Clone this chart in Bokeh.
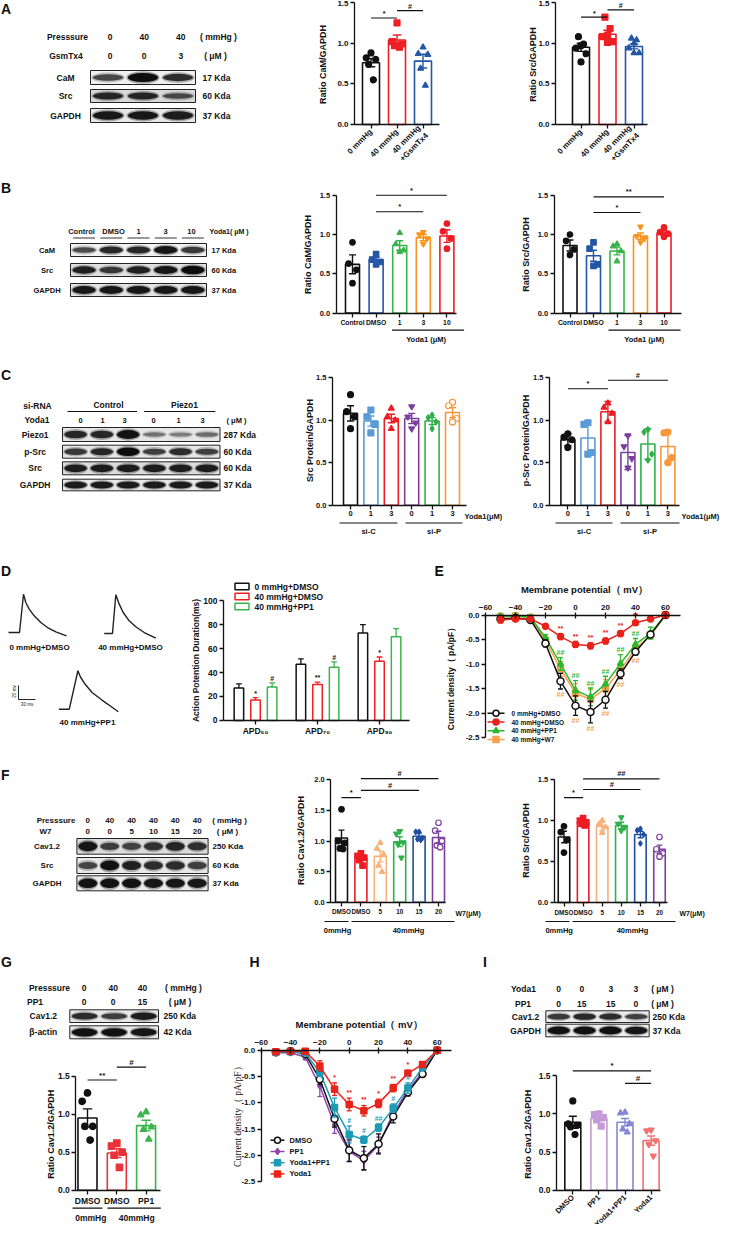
import math
from bokeh.plotting import figure
from bokeh.models import Range1d, LinearAxis, FixedTicker, NumeralTickFormatter
from bokeh.layouts import row, column
from bokeh.embed import file_html
from bokeh.resources import INLINE
from bokeh.core.properties import value

FONT = "Liberation Sans"
SERIF = "Liberation Serif"
INK = "#111111"

# ======================= DATA =======================
# ---------- A ----------
A_pressure = ["0", "40", "40"]
A_gsmtx4 = ["0", "0", "3"]
A_proteins = ["CaM", "Src", "GAPDH"]
A_kda = ["17 Kda", "60 Kda", "37 Kda"]
A_bands = [[0.5, 1.0, 0.7], [0.75, 0.75, 0.45], [0.9, 0.9, 0.85]]
A_groups = ["0 mmHg", "40 mmHg", "40 mmHg\n+GsmTx4"]
A_colors = ["#111111", "#ee2024", "#2456a6"]
A_markers = ["circle", "square", "triangle"]
A_cam_mean = [0.76, 1.04, 0.78]
A_cam_sem = [0.05, 0.06, 0.085]
A_cam_pts = [[0.88, 0.82, 0.80, 0.74, 0.55], [1.25, 1.02, 0.99, 0.97, 0.95], [0.95, 0.87, 0.86, 0.69, 0.48]]
A_cam_sig = [(0, 1, "*", 1.31), (1, 2, "#", 1.40)]
A_src_mean = [0.95, 1.11, 0.96]
A_src_sem = [0.05, 0.05, 0.03]
A_src_pts = [[1.08, 0.99, 0.97, 0.94, 0.87, 0.77], [1.32, 1.18, 1.10, 1.08, 1.02, 1.01], [1.06, 1.04, 1.00, 0.94, 0.88, 0.88]]
A_src_sig = [(0, 1, "*", 1.32), (1, 2, "#", 1.41)]

# ---------- B ----------
B_lanes = ["Control", "DMSO", "1", "3", "10"]
B_proteins = ["CaM", "Src", "GAPDH"]
B_kda = ["17 Kda", "60 Kda", "37 Kda"]
B_bands = [[0.45, 0.75, 0.75, 0.9, 0.6], [0.8, 0.6, 0.8, 0.9, 1.0], [0.9, 0.9, 0.9, 0.9, 0.9]]
B_colors = ["#111111", "#2456a6", "#37b34a", "#f7941d", "#ed1c24"]
B_markers = ["circle", "square", "triangle", "inverted_triangle", "circle"]
B_cam_mean = [0.62, 0.68, 0.86, 0.96, 0.98]
B_cam_sem = [0.12, 0.03, 0.06, 0.04, 0.08]
B_cam_pts = [[0.90, 0.63, 0.55, 0.38], [0.75, 0.68, 0.65, 0.62], [1.02, 0.88, 0.80, 0.78],
             [1.03, 1.00, 0.95, 0.88], [1.14, 1.04, 0.95, 0.82]]
B_cam_sig = [(1, 4, "*", 1.50), (1, 3, "*", 1.29)]
B_src_mean = [0.86, 0.73, 0.79, 0.98, 1.02]
B_src_sem = [0.07, 0.07, 0.05, 0.04, 0.03]
B_src_pts = [[1.00, 0.92, 0.81, 0.74], [0.90, 0.82, 0.62, 0.60], [0.88, 0.85, 0.79, 0.66],
             [1.10, 0.98, 0.95, 0.90], [1.09, 1.03, 1.01, 0.97]]
B_src_sig = [(1, 4, "**", 1.48), (1, 3, "*", 1.28)]

# ---------- C ----------
C_lanes = ["0", "1", "3", "0", "1", "3"]
C_proteins = ["Piezo1", "p-Src", "Src", "GAPDH"]
C_kda = ["287 Kda", "60 Kda", "60 Kda", "37 Kda"]
C_bands = [[0.75, 0.75, 0.95, 0.15, 0.08, 0.2], [0.6, 0.75, 1.0, 0.55, 0.7, 0.55],
           [0.85, 0.85, 0.85, 0.85, 0.85, 0.85], [0.85, 0.85, 0.85, 0.85, 0.85, 0.85]]
C_colors = ["#111111", "#5b9bd5", "#ed1c24", "#7b3f9e", "#2fb04a", "#f7963a"]
C_markers = ["circle", "square", "triangle", "inverted_triangle", "diamond", "circle"]
C_src_mean = [1.08, 0.99, 1.02, 1.02, 0.99, 1.09]
C_src_sem = [0.09, 0.06, 0.05, 0.06, 0.04, 0.06]
C_src_pts = [[1.30, 1.10, 1.04, 0.90], [1.12, 1.04, 0.95, 0.85], [1.14, 1.04, 1.00, 0.90],
             [1.16, 1.04, 0.97, 0.90], [1.06, 1.03, 0.98, 0.90], [1.21, 1.17, 1.02, 0.98]]
C_psrc_mean = [0.77, 0.79, 1.10, 0.62, 0.72, 0.69]
C_psrc_err = [0.07, 0.20, 0.12, 0.20, 0.18, 0.19]
C_psrc_pts = [[0.84, 0.80, 0.77, 0.68], [0.97, 0.95, 0.62, 0.60], [1.20, 1.15, 1.08, 0.98],
              [0.82, 0.69, 0.55, 0.44], [0.89, 0.86, 0.60, 0.53], [0.86, 0.85, 0.56, 0.50]]
C_psrc_sig = [(0, 2, "*", 1.37), (2, 5, "#", 1.47)]

# ---------- D ----------
D_traces = ["0 mmHg+DMSO", "40 mmHg+DMSO", "40 mmHg+PP1"]
AP_t = [[0, 19.4, 26.5, 30.5, 36.5, 45.3, 57.0, 68.8, 83.5, 102.3],
        [0, 14.6, 20.5, 26.5, 33.5, 44.1, 55.7, 70.5, 91.0],
        [0, 18.3, 33.5, 38.0, 46.0, 58.5, 75.3, 92.0, 104.7]]
AP_v = [[0, 0, 54.7, 42.9, 33.3, 23.8, 14.3, 7.1, 1.0, -4.7],
        [0, 0, 55.3, 41.9, 30.0, 18.1, 9.6, 1.4, -6.7],
        [0, 0, 54.9, 46.0, 35.9, 23.9, 13.4, 3.9, -3.7]]
D_groups = ["APD₅₀", "APD₇₀", "APD₉₀"]
D_series = ["0 mmHg+DMSO", "40 mmHg+DMSO", "40 mmHg+PP1"]
D_colors = ["#111111", "#ee2024", "#3cb44b"]
D_mean = [[27, 47, 73], [17, 30, 49.5], [28, 44.5, 70]]
D_sem = [[3.5, 4.5, 7.0], [2.0, 2.0, 3.5], [3.3, 4.5, 6.8]]
D_sig = [["", "", ""], ["*", "**", "*"], ["#", "#", ""]]

# ---------- E ----------
E_V = [-50, -40, -30, -20, -10, 0, 10, 20, 30, 40, 50, 60]
E_names = ["0 mmHg+DMSO", "40 mmHg+DMSO", "40 mmHg+PP1", "40 mmHg+W7"]
E_colors = ["#111111", "#e8231a", "#2db82d", "#f6a04d"]
E_markers = ["circle", "circle", "triangle", "square"]
E_mean = [[-0.08, -0.06, -0.10, -0.58, -1.35, -1.85, -1.98, -1.73, -1.20, -0.75, -0.40, 0.0],
          [-0.10, -0.08, -0.08, -0.23, -0.44, -0.60, -0.63, -0.53, -0.38, -0.16, -0.08, 0.0],
          [-0.02, -0.02, -0.05, -0.46, -1.00, -1.54, -1.67, -1.41, -0.99, -0.60, -0.37, 0.0],
          [-0.03, -0.02, -0.05, -0.52, -1.10, -1.60, -1.72, -1.50, -1.12, -0.68, -0.42, 0.0]]
E_sem = [[0.03, 0.03, 0.03, 0.07, 0.16, 0.20, 0.22, 0.17, 0.10, 0.07, 0.05, 0.0],
         [0.06, 0.05, 0.03, 0.05, 0.06, 0.06, 0.06, 0.06, 0.06, 0.03, 0.05, 0.0],
         [0.02, 0.02, 0.02, 0.06, 0.13, 0.20, 0.18, 0.16, 0.18, 0.12, 0.12, 0.0],
         [0.02, 0.02, 0.02, 0.06, 0.15, 0.20, 0.20, 0.18, 0.14, 0.10, 0.06, 0.0]]
E_sig_red = ["", "", "", "", "**", "**", "**", "**", "**", "**", "", ""]
E_sig_green = ["", "", "", "", "##", "##", "##", "##", "##", "##", "", ""]
E_sig_orange = ["", "", "", "", "##", "##", "##", "##", "##", "##", "", ""]
IV_ticks = [0, -0.5, -1.0, -1.5, -2.0, -2.5]
V_ticks = [-60, -40, -20, 0, 20, 40, 60]

# ---------- F ----------
F_pressure = ["0", "40", "40", "40", "40", "40"]
F_w7 = ["0", "0", "5", "10", "15", "20"]
F_proteins = ["Cav1.2", "Src", "GAPDH"]
F_kda = ["250 Kda", "60 Kda", "37 Kda"]
F_bands = [[0.9, 0.55, 0.5, 0.65, 0.75, 0.65], [0.5, 0.95, 0.8, 0.7, 0.7, 0.55], [0.95, 0.95, 0.95, 0.9, 0.9, 0.9]]
F_ticks = ["DMSO", "DMSO", "5", "10", "15", "20"]
F_colors = ["#111111", "#ed1c24", "#f7b27b", "#2fb04a", "#1f4ea0", "#7b3f9e"]
F_markers = ["circle", "square", "triangle", "inverted_triangle", "diamond", "circle"]
F_cav_mean = [1.05, 0.72, 0.75, 0.99, 1.08, 1.06]
F_cav_sem = [0.13, 0.04, 0.09, 0.08, 0.05, 0.10]
F_cav_pts = [[1.52, 1.00, 0.97, 0.88, 0.87], [0.80, 0.76, 0.73, 0.69, 0.60], [0.97, 0.88, 0.78, 0.60, 0.50],
             [1.16, 1.12, 0.98, 0.95, 0.73], [1.15, 1.15, 1.05, 1.03, 1.02], [1.30, 1.17, 1.00, 0.93, 0.90]]
F_cav_sig = [(0, 1, "*", 1.71), (1, 4, "#", 1.83), (1, 5, "#", 2.02)]
F_src_mean = [0.80, 0.98, 0.93, 0.94, 0.83, 0.65]
F_src_sem = [0.07, 0.02, 0.05, 0.04, 0.04, 0.05]
F_src_pts = [[0.93, 0.86, 0.76, 0.61], [1.03, 1.00, 0.98, 0.96, 0.94], [1.00, 0.96, 0.92, 0.85],
             [1.04, 0.96, 0.92, 0.88], [0.90, 0.88, 0.83, 0.72], [0.80, 0.65, 0.60, 0.56]]
F_src_sig = [(0, 1, "*", 1.28), (1, 4, "#", 1.38), (1, 5, "##", 1.51)]

# ---------- G ----------
G_pressure = ["0", "40", "40"]
G_pp1 = ["0", "0", "15"]
G_proteins = ["Cav1.2", "β-actin"]
G_kda = ["250 Kda", "42 Kda"]
G_bands = [[0.7, 0.55, 0.85], [0.95, 0.95, 0.9]]
G_ticks = ["DMSO", "DMSO", "PP1"]
G_colors = ["#111111", "#e8333a", "#3cb44b"]
G_markers = ["circle", "square", "triangle"]
G_mean = [0.95, 0.49, 0.85]
G_sem = [0.12, 0.06, 0.07]
G_pts = [[1.28, 1.17, 0.84, 0.84, 0.66], [0.62, 0.58, 0.50, 0.46, 0.30], [1.03, 0.99, 0.83, 0.80, 0.67]]
G_sig = [(0, 1, "**", 1.45), (1, 2, "#", 1.62)]

# ---------- H ----------
H_names = ["DMSO", "PP1", "Yoda1+PP1", "Yoda1"]
H_colors = ["#111111", "#8e44ad", "#1b9bb5", "#e8231a"]
H_markers = ["circle", "diamond", "square", "square"]
H_mean = [[-0.04, -0.02, -0.07, -0.55, -1.30, -1.90, -2.05, -1.78, -1.26, -0.80, -0.45, 0.0],
          [-0.05, -0.05, -0.13, -0.68, -1.42, -1.92, -2.10, -1.80, -1.20, -0.76, -0.42, 0.0],
          [-0.04, -0.03, -0.05, -0.42, -1.09, -1.60, -1.70, -1.47, -1.10, -0.72, -0.33, 0.0],
          [-0.03, -0.02, -0.02, -0.30, -0.74, -1.03, -1.15, -1.01, -0.72, -0.44, -0.27, 0.0]]
H_sem = [[0.02, 0.02, 0.03, 0.10, 0.16, 0.21, 0.22, 0.19, 0.12, 0.07, 0.05, 0.0],
         [0.02, 0.02, 0.05, 0.20, 0.16, 0.20, 0.18, 0.15, 0.10, 0.10, 0.05, 0.0],
         [0.02, 0.02, 0.02, 0.08, 0.18, 0.16, 0.07, 0.07, 0.08, 0.10, 0.05, 0.0],
         [0.02, 0.02, 0.02, 0.10, 0.12, 0.12, 0.10, 0.08, 0.07, 0.06, 0.04, 0.0]]
H_sig_red = ["", "", "", "", "*", "**", "**", "*", "**", "*", "", ""]
H_sig_teal = ["", "", "", "", "", "#", "#", "##", "#", "#", "", ""]

# ---------- I ----------
I_yoda = ["0", "0", "3", "3"]
I_pp1 = ["0", "15", "15", "0"]
I_proteins = ["Cav1.2", "GAPDH"]
I_kda = ["250 Kda", "37 Kda"]
I_bands = [[0.6, 0.75, 0.7, 0.55], [0.95, 0.95, 0.95, 0.9]]
I_ticks = ["DMSO", "PP1", "Yoda1+PP1", "Yoda1"]
I_colors = ["#111111", "#c49bd6", "#8287d4", "#f07070"]
I_markers = ["circle", "square", "triangle", "inverted_triangle"]
I_mean = [0.89, 0.94, 0.89, 0.65]
I_sem = [0.08, 0.03, 0.05, 0.06]
I_pts = [[1.17, 0.87, 0.85, 0.83, 0.73], [1.00, 0.99, 0.95, 0.92, 0.84], [1.02, 1.01, 0.87, 0.80, 0.76],
         [0.79, 0.78, 0.65, 0.60, 0.45]]
I_sig = [(0, 3, "*", 1.565), (2, 3, "#", 1.40)]

# horizontal spread of dots inside a bar (fraction of bar width), by number of dots
JIT = {4: [0.0, -0.28, 0.28, 0.0], 5: [0.0, -0.28, 0.28, -0.14, 0.14], 6: [-0.15, 0.15, 0.0, -0.3, 0.3, 0.0]}


# ======================= HELPERS =======================
class Panel:
    """A figure covering a pixel rectangle of the page; data <-> pixel calibration."""
    def __init__(self, x0, x1, y0, y1, xcal=(0.0, 0.0, 1.0), ycal=(0.0, 0.0, 1.0)):
        self.xc, self.yc = xcal, ycal
        self.p = figure(width=int(x1 - x0), height=int(y1 - y0),
                        x_range=Range1d(self.dx(x0), self.dx(x1)),
                        y_range=Range1d(self.dy(y1), self.dy(y0)),
                        x_axis_type=None, y_axis_type=None,
                        output_backend="svg", toolbar_location=None,
                        min_border=0, outline_line_color=None)

    def dx(self, px):
        va, pa, s = self.xc
        return va + (px - pa) / s

    def dy(self, py):
        va, pa, s = self.yc
        return va + (pa - py) / s

    def ux(self, n):
        return n / self.xc[2]

    def uy(self, n):
        return n / self.yc[2]


def ptext(P, px, py, s, size=8, align="center", baseline="middle", color=INK, angle=0.0, bold=True, font=FONT):
    P.p.text(x=[P.dx(px)], y=[P.dy(py)], text=[s], angle=angle, text_font=value(font),
             text_font_size=f"{size}px", text_font_style="bold" if bold else "normal",
             text_align=align, text_baseline=baseline, text_color=color)


def pline(P, x0, y0, x1, y1, color=INK, w=1.2):
    P.p.segment(x0=[P.dx(x0)], y0=[P.dy(y0)], x1=[P.dx(x1)], y1=[P.dy(y1)], line_color=color, line_width=w)


def axis_style(ax, size=8):
    ax.axis_line_width = 1.3
    ax.axis_line_color = INK
    ax.major_tick_line_width = 1.3
    ax.major_tick_line_color = INK
    ax.major_tick_out = 4
    ax.major_tick_in = 0
    ax.minor_tick_out = 0
    ax.minor_tick_in = 0
    ax.major_label_text_font = FONT
    ax.major_label_text_font_size = f"{size}px"
    ax.major_label_text_font_style = "bold"
    ax.major_label_text_color = INK
    ax.major_label_standoff = 2


def bar_axes(P, yaxis_px, xend_px, yticks, xlabels, fmt="0.0", orient=None, xsize=8, ysize=8):
    n = len(xlabels)
    xa = LinearAxis(fixed_location=0, bounds=(P.dx(yaxis_px), P.dx(xend_px)),
                    ticker=FixedTicker(ticks=list(range(n)), minor_ticks=[]))
    axis_style(xa, xsize)
    xa.major_label_overrides = {i: s for i, s in enumerate(xlabels)}
    if orient is not None:
        xa.major_label_orientation = orient
    P.p.add_layout(xa, "below")
    ya = LinearAxis(fixed_location=P.dx(yaxis_px), bounds=(yticks[0], yticks[-1]),
                    ticker=FixedTicker(ticks=yticks, minor_ticks=[]),
                    formatter=NumeralTickFormatter(format=fmt))
    axis_style(ya, ysize)
    P.p.add_layout(ya, "left")


def bars(P, means, errs, pts, colors, markers, bw_px, hollow=(), msize=6):
    n = len(means)
    xs = list(range(n))
    bw = P.ux(bw_px)
    P.p.vbar(x=xs, top=means, bottom=0, width=bw, fill_color="white", line_color=colors, line_width=1.6)
    for i in range(n):
        offs = JIT[len(pts[i])]
        fill = "white" if i in hollow else colors[i]
        P.p.scatter(x=[i + o * bw for o in offs], y=pts[i], marker=markers[i], size=msize,
                    fill_color=fill, line_color=colors[i], line_width=1.2)
    lo = [m - e for m, e in zip(means, errs)]
    hi = [m + e for m, e in zip(means, errs)]
    cw = bw * 0.5
    P.p.segment(x0=xs, y0=lo, x1=xs, y1=hi, line_color=colors, line_width=1.4)
    P.p.segment(x0=[x - cw / 2 for x in xs], y0=hi, x1=[x + cw / 2 for x in xs], y1=hi, line_color=colors, line_width=1.4)
    P.p.segment(x0=[x - cw / 2 for x in xs], y0=lo, x1=[x + cw / 2 for x in xs], y1=lo, line_color=colors, line_width=1.4)


def sig(P, items, size=8):
    for i, j, lab, y in items:
        P.p.segment(x0=[i], y0=[y], x1=[j], y1=[y], line_color=INK, line_width=1.2)
        P.p.text(x=[(i + j) / 2], y=[y + P.uy(0.5)], text=[lab], text_font=value(FONT),
                 text_font_size=f"{size}px", text_font_style="bold",
                 text_align="center", text_baseline="bottom", text_color=INK)


def blot(P, x0, x1, rows, bands, bgs):
    n = len(bands[0])
    lw = (x1 - x0) / n
    centers = [x0 + (i + 0.5) * lw for i in range(n)]
    for (ya, yb), inten, bg in zip(rows, bands, bgs):
        h = yb - ya
        ym = (ya + yb) / 2
        P.p.rect(x=[P.dx((x0 + x1) / 2)], y=[P.dy(ym)], width=[x1 - x0], height=[h],
                 fill_color=bg, line_color="#222222", line_width=1)
        P.p.ellipse(x=[P.dx(c) for c in centers], y=[P.dy(ym)] * n, width=[lw * 0.95] * n,
                    height=[h * (0.5 + 0.4 * v) for v in inten], fill_color="#333333",
                    fill_alpha=[0.15 + 0.25 * v for v in inten], line_color=None)
        P.p.ellipse(x=[P.dx(c) for c in centers], y=[P.dy(ym)] * n, width=[lw * 0.86] * n,
                    height=[h * (0.25 + 0.4 * v) for v in inten], fill_color="#0d0d0d",
                    fill_alpha=[0.35 + 0.65 * v for v in inten], line_color=None)


def iv_axes(P):
    xa = LinearAxis(fixed_location=0, bounds=(-60, 70), ticker=FixedTicker(ticks=V_ticks, minor_ticks=[]))
    axis_style(xa)
    xa.major_tick_in = 3
    xa.major_tick_out = 3
    P.p.add_layout(xa, "above")
    ya = LinearAxis(fixed_location=-60, bounds=(-2.5, 0), ticker=FixedTicker(ticks=IV_ticks, minor_ticks=[]),
                    formatter=NumeralTickFormatter(format="0.0"))
    axis_style(ya)
    P.p.add_layout(ya, "left")


def iv_series(P, V, vals, errs, color, marker, hollow=False, size=6):
    P.p.line(V, vals, line_color=color, line_width=1.5)
    lo = [v - e for v, e in zip(vals, errs)]
    hi = [v + e for v, e in zip(vals, errs)]
    cw = P.ux(2.5)
    P.p.segment(x0=V, y0=lo, x1=V, y1=hi, line_color=color, line_width=1.3)
    P.p.segment(x0=[x - cw for x in V], y0=hi, x1=[x + cw for x in V], y1=hi, line_color=color, line_width=1.3)
    P.p.segment(x0=[x - cw for x in V], y0=lo, x1=[x + cw for x in V], y1=lo, line_color=color, line_width=1.3)
    P.p.scatter(V, vals, marker=marker, size=size, fill_color="white" if hollow else color,
                line_color=color, line_width=1.5)


def iv_marks(P, V, labels, ys, color, baseline, size=7):
    xs = [v for v, l in zip(V, labels) if l]
    yy = [y for y, l in zip(ys, labels) if l]
    tt = [l for l in labels if l]
    P.p.text(x=xs, y=yy, text=tt, text_font=value(FONT), text_font_size=f"{size}px",
             text_font_style="bold", text_align="center", text_baseline=baseline, text_color=color)


# ======================= ROW A (y 8..186) =======================
PAb = Panel(8, 300, 8, 186)
ptext(PAb, 8.5, 16.5, "A", 14, align="left")
ptext(PAb, 75, 44, "Presssure", 8.5)
ptext(PAb, 73.5, 63, "GsmTx4", 8.5)
for xh, a, b in zip([117.7, 151.7, 188.3], A_pressure, A_gsmtx4):
    ptext(PAb, xh, 44, a, 8.5)
    ptext(PAb, xh, 63, b, 8.5)
ptext(PAb, 226, 44, "( mmHg )", 8.5)
ptext(PAb, 223, 63, "( μM )", 8.5)
A_rows = [(78, 92), (97, 110), (116, 130)]
blot(PAb, 98, 203, A_rows, A_bands, ["#efefef", "#d9d9d9", "#e8e8e8"])
for (ya, yb), nm, kd in zip(A_rows, A_proteins, A_kda):
    ptext(PAb, 73, (ya + yb) / 2, nm, 8.5)
    ptext(PAb, 210, (ya + yb) / 2, kd, 8.5, align="left")

PA1 = Panel(300, 500, 8, 186, xcal=(0, 378.5, 26.0), ycal=(0, 132, 81.3))
bar_axes(PA1, 362, 447, [0, 0.5, 1.0, 1.5], A_groups, orient=math.pi / 4)
bars(PA1, A_cam_mean, A_cam_sem, A_cam_pts, A_colors, A_markers, 17)
sig(PA1, A_cam_sig, 7)
ptext(PA1, 330, 72, "Ratio CaM/GAPDH", 9, angle=math.pi / 2)

PA2 = Panel(500, 733, 8, 186, xcal=(0, 588.5, 26.5), ycal=(0, 132, 81.3))
bar_axes(PA2, 563, 655, [0, 0.5, 1.0, 1.5], A_groups, orient=math.pi / 4)
bars(PA2, A_src_mean, A_src_sem, A_src_pts, A_colors, A_markers, 17)
sig(PA2, A_src_sig, 7)
ptext(PA2, 540, 72, "Ratio Src/GAPDH", 9, angle=math.pi / 2)

# ======================= ROW B (y 186..362) =======================
PBb = Panel(8, 300, 186, 362)
ptext(PBb, 8.5, 195, "B", 14, align="left")
for xh, s in zip([89, 121, 146, 173, 199], B_lanes):
    ptext(PBb, xh, 239, s, 7.5)
for xc in [91.6, 118.8, 146, 173.2, 200.4]:
    pline(PBb, xc - 11, 245.5, xc + 11, 245.5, color="#777777", w=1.5)
ptext(PBb, 217, 239, "Yoda1( μM )", 7, align="left")
B_rows = [(251, 264), (271, 284), (291, 304)]
blot(PBb, 78, 214, B_rows, B_bands, ["#f2f2f2", "#e0e0e0", "#e4e4e4"])
for (ya, yb), nm, kd in zip(B_rows, B_proteins, B_kda):
    ptext(PBb, 54.5, (ya + yb) / 2, nm, 7.5)
    ptext(PBb, 219, (ya + yb) / 2, kd, 7.5, align="left")

PB1 = Panel(300, 520, 186, 362, xcal=(0, 360, 23.6), ycal=(0, 320.5, 78.5))
bar_axes(PB1, 343.6, 464, [0, 0.5, 1.0, 1.5], B_lanes, xsize=6.8, ysize=7.5)
bars(PB1, B_cam_mean, B_cam_sem, B_cam_pts, B_colors, B_markers, 14, msize=5.5)
sig(PB1, B_cam_sig, 7.5)
pline(PB1, 399.5, 337.7, 471.6, 337.7)
ptext(PB1, 433.6, 347, "Yoda1 (μM)", 7.5)
ptext(PB1, 315, 262, "Ratio CaM/GAPDH", 9, angle=math.pi / 2)

PB2 = Panel(520, 733, 186, 362, xcal=(0, 577.5, 23.5), ycal=(0, 320.5, 78.5))
bar_axes(PB2, 561.6, 689, [0, 0.5, 1.0, 1.5], B_lanes, xsize=6.8, ysize=7.5)
bars(PB2, B_src_mean, B_src_sem, B_src_pts, B_colors, B_markers, 14, msize=5.5)
sig(PB2, B_src_sig, 7.5)
pline(PB2, 616, 337.7, 688, 337.7)
ptext(PB2, 651.7, 347, "Yoda1 (μM)", 7.5)
ptext(PB2, 533, 262, "Ratio Src/GAPDH", 9, angle=math.pi / 2)

# ======================= ROW C (y 362..556) =======================
PCb = Panel(8, 300, 362, 556)
ptext(PCb, 8.5, 382, "C", 14, align="left")
ptext(PCb, 45, 413, "si-RNA", 8.5)
ptext(PCb, 116, 412, "Control", 8.5)
pline(PCb, 75, 419, 144.5, 419, w=1)
ptext(PCb, 192, 412, "Piezo1", 8.5)
pline(PCb, 151.7, 419, 222.7, 419, w=1)
ptext(PCb, 44.5, 427.5, "Yoda1", 8.5)
for xh, s in zip([88, 110, 132, 161, 186, 210], C_lanes):
    ptext(PCb, xh, 427.5, s, 7.5)
ptext(PCb, 244, 427.5, "( μM )", 7.5)
C_rows = [(435, 449), (452.7, 465.7), (469.3, 482.3), (486.7, 498.3)]
blot(PCb, 70, 227.5, C_rows, C_bands, ["#e6e6e6", "#e6e6e6", "#dcdcdc", "#e8e8e8"])
for (ya, yb), nm, kd in zip(C_rows, C_proteins, C_kda):
    ptext(PCb, 42.6, (ya + yb) / 2, nm, 8.5)
    ptext(PCb, 231, (ya + yb) / 2, kd, 8.5, align="left")

PC1 = Panel(300, 520, 362, 556, xcal=(0, 358, 20.4), ycal=(0, 512.7, 85))
bar_axes(PC1, 340, 474, [0, 0.5, 1.0, 1.5], C_lanes, xsize=7.5, ysize=7.5)
bars(PC1, C_src_mean, C_src_sem, C_src_pts, C_colors, C_markers, 14, hollow=(5,), msize=6)
ptext(PC1, 472, 523.5, "Yoda1(μM)", 7.5, align="left")
pline(PC1, 347, 530.5, 405, 530.5)
pline(PC1, 413, 530.5, 470, 530.5)
ptext(PC1, 376, 538.5, "si-C", 7.5)
ptext(PC1, 441.5, 538.5, "si-P", 7.5)
ptext(PC1, 317.5, 448, "Src Protein/GAPDH", 9, angle=math.pi / 2)

PC2 = Panel(520, 733, 362, 556, xcal=(0, 575.4, 20.0), ycal=(0, 512.7, 85))
bar_axes(PC2, 557, 687, [0, 0.5, 1.0, 1.5], C_lanes, xsize=7.5, ysize=7.5)
bars(PC2, C_psrc_mean, C_psrc_err, C_psrc_pts, C_colors, C_markers, 14, msize=6)
sig(PC2, C_psrc_sig, 7.5)
ptext(PC2, 689, 523.5, "Yoda1(μM)", 7.5, align="left")
pline(PC2, 563, 530.5, 620, 530.5)
pline(PC2, 628, 530.5, 687, 530.5)
ptext(PC2, 591.5, 538.5, "si-C", 7.5)
ptext(PC2, 657.5, 538.5, "si-P", 7.5)
ptext(PC2, 533, 448, "p-Src Protein/GAPDH", 9, angle=math.pi / 2)

# ======================= ROW D / E (y 556..760) =======================
PDt = Panel(8, 195, 556, 760, xcal=(0, 8, 0.567), ycal=(0, 760, 0.7))  # ms, mV
ptext(PDt, 8.5, 578, "D", 14, align="left")
for (ox, oy), t, v in zip([(16, 640), (111.7, 641), (66.4, 716.7)], AP_t, AP_v):
    PDt.p.line([PDt.dx(ox) + ti for ti in t], [PDt.dy(oy) + vi for vi in v], line_color="#222222", line_width=1.4)
for (lx, ly), s in zip([(47, 655), (138, 655), (95, 730)], D_traces):
    ptext(PDt, lx, ly, s, 8)
sx, sy = PDt.dx(26), PDt.dy(707)
PDt.p.line([sx, sx, sx + 30], [sy + 20, sy, sy], line_color="#222222", line_width=1)
ptext(PDt, 21.5, 699, "20 mv", 4.5, angle=math.pi / 2, bold=False)
ptext(PDt, 34.5, 712, "30 ms", 4.5, bold=False)

PD = Panel(195, 440, 556, 760, xcal=(0, 263, 62), ycal=(0, 727.9, 1.196))
bar_axes(PD, 231, 417, [0, 20, 40, 60, 80, 100], D_groups, fmt="0", xsize=8.5, ysize=8.5)
off = PD.ux(16.6)
bw = PD.ux(9.5)
for k in range(3):
    xs = [g + (k - 1) * off for g in range(3)]
    PD.p.vbar(x=xs, top=D_mean[k], bottom=0, width=bw, fill_color="white", line_color=D_colors[k], line_width=1.5)
    hi = [m + e for m, e in zip(D_mean[k], D_sem[k])]
    PD.p.segment(x0=xs, y0=D_mean[k], x1=xs, y1=hi, line_color=D_colors[k], line_width=1.3)
    PD.p.segment(x0=[x - bw * 0.3 for x in xs], y0=hi, x1=[x + bw * 0.3 for x in xs], y1=hi,
                 line_color=D_colors[k], line_width=1.3)
    lx = [x for x, s in zip(xs, D_sig[k]) if s]
    ly = [h + PD.uy(1) for h, s in zip(hi, D_sig[k]) if s]
    lt = [s for s in D_sig[k] if s]
    if lt:
        PD.p.text(x=lx, y=ly, text=lt, text_font=value(FONT), text_font_size="7px", text_font_style="bold",
                  text_align="center", text_baseline="bottom", text_color=INK)
for k, (nm, c) in enumerate(zip(D_series, D_colors)):
    yy = [594, 604, 614][k]
    PD.p.rect(x=[PD.dx(249.5)], y=[PD.dy(yy)], width=[PD.ux(14)], height=[PD.uy(6.5)],
              fill_color="white", line_color=c, line_width=1.5)
    ptext(PD, 262, yy, nm, 8.5, align="left")
ptext(PD, 203, 668, "Action Potention Duration(ms)", 8.5, angle=math.pi / 2)

PE = Panel(440, 733, 556, 760, xcal=(0, 583, 1.5), ycal=(0, 622.5, 49))
ptext(PE, 442, 578, "E", 14, align="left")
ptext(PE, 592, 597, "Membrane potential（ mV）", 9.5)
ptext(PE, 458, 684, "Current density（ pA/pF）", 8.5, angle=math.pi / 2)
iv_axes(PE)
for k in [3, 2, 0, 1]:
    iv_series(PE, E_V, E_mean[k], E_sem[k], E_colors[k], E_markers[k], hollow=(k == 0),
              size=7 if k == 0 else 6)
iv_marks(PE, E_V, E_sig_red, [v + e + 0.04 for v, e in zip(E_mean[1], E_sem[1])], E_colors[1], "bottom")
iv_marks(PE, E_V, E_sig_green, [v + e + 0.03 for v, e in zip(E_mean[2], E_sem[2])], E_colors[2], "bottom")
iv_marks(PE, E_V, E_sig_orange, [v - e - 0.04 for v, e in zip(E_mean[0], E_sem[0])], E_colors[3], "top")
for k, (nm, c, mk) in enumerate(zip(E_names, E_colors, E_markers)):
    yy = [720.7, 729.5, 738.3, 747.1][k]
    pline(PE, 495, yy, 512, yy, color=c, w=1.5)
    PE.p.scatter([PE.dx(503.5)], [PE.dy(yy)], marker=mk, size=6, fill_color="white" if k == 0 else c,
                 line_color=c, line_width=1.5)
    ptext(PE, 519, yy, nm, 6.5, align="left")

# ======================= ROW F (y 760..950) =======================
PFb = Panel(8, 300, 760, 950)
ptext(PFb, 8.5, 782, "F", 14, align="left")
ptext(PFb, 63.5, 827.7, "Presssure", 8)
ptext(PFb, 53, 839.3, "W7", 8)
for xh, a, b in zip([95.3, 117.2, 139.1, 160.9, 182.8, 204.7], F_pressure, F_w7):
    ptext(PFb, xh, 827.7, a, 8)
    ptext(PFb, xh, 839.3, b, 8)
ptext(PFb, 237, 827.7, "( mmHg )", 8)
ptext(PFb, 235, 839.3, "( μM )", 8)
F_rows = [(846, 861.7), (865, 881), (883.3, 898.3)]
blot(PFb, 84.4, 215.6, F_rows, F_bands, ["#dcdcdc", "#e8e8e8", "#ececec"])
for (ya, yb), nm, kd in zip(F_rows, F_proteins, F_kda):
    ptext(PFb, 54.5, (ya + yb) / 2, nm, 8)
    ptext(PFb, 220, (ya + yb) / 2, kd, 8, align="left")

PF1 = Panel(300, 520, 760, 950, xcal=(0, 349, 19.4), ycal=(0, 909.8, 61.2))
bar_axes(PF1, 338.3, 453, [0, 0.5, 1.0, 1.5, 2.0], F_ticks, xsize=6.3, ysize=7.5)
bars(PF1, F_cav_mean, F_cav_sem, F_cav_pts, F_colors, F_markers, 12, hollow=(5,), msize=5.5)
sig(PF1, F_cav_sig, 7.5)
ptext(PF1, 463, 921, "W7(μM)", 7, align="left")
pline(PF1, 332, 929, 356, 929)
pline(PF1, 359, 929, 462, 929)
ptext(PF1, 345, 938.3, "0mmHg", 7.5)
ptext(PF1, 416, 938.3, "40mmHg", 7.5)
ptext(PF1, 308, 848, "Ratio Cav1.2/GAPDH", 9, angle=math.pi / 2)

PF2 = Panel(520, 733, 760, 950, xcal=(0, 571.5, 19.1), ycal=(0, 910, 81.9))
bar_axes(PF2, 561.7, 675, [0, 0.5, 1.0, 1.5], F_ticks, xsize=6.3, ysize=7.5)
bars(PF2, F_src_mean, F_src_sem, F_src_pts, F_colors, F_markers, 11.5, hollow=(5,), msize=5.5)
sig(PF2, F_src_sig, 7.5)
ptext(PF2, 687, 921, "W7(μM)", 7, align="left")
pline(PF2, 553, 929, 577, 929)
pline(PF2, 580, 929, 683, 929)
ptext(PF2, 566.7, 938.3, "0mmHg", 7.5)
ptext(PF2, 640, 938.3, "40mmHg", 7.5)
ptext(PF2, 533, 848, "Ratio Src/GAPDH", 9, angle=math.pi / 2)

# ======================= ROW G / H / I (y 950..1232) =======================
PGb = Panel(8, 238, 950, 1062)
ptext(PGb, 8.5, 969, "G", 14, align="left")
ptext(PGb, 57, 995.7, "Presssure", 8.5)
ptext(PGb, 42.5, 1009.3, "PP1", 8.5)
for xh, a, b in zip([91.7, 120.7, 150], G_pressure, G_pp1):
    ptext(PGb, xh, 995.7, a, 8.5)
    ptext(PGb, xh, 1009.3, b, 8.5)
ptext(PGb, 191, 995.7, "( mmHg )", 8.5)
ptext(PGb, 187.5, 1009.3, "( μM )", 8.5)
G_rows = [(1017.3, 1030), (1033.3, 1046.3)]
blot(PGb, 77.3, 166, G_rows, G_bands, ["#e8e8e8", "#ececec"])
for (ya, yb), nm, kd in zip(G_rows, G_proteins, G_kda):
    ptext(PGb, 50.8, (ya + yb) / 2, nm, 8.5)
    ptext(PGb, 171, (ya + yb) / 2, kd, 8.5, align="left")

PG = Panel(8, 238, 1062, 1232, xcal=(0, 95, 29.3), ycal=(0, 1197.7, 76))
bar_axes(PG, 83.3, 168, [0, 0.5, 1.0, 1.5], G_ticks, xsize=8.5, ysize=8.5)
bars(PG, G_mean, G_sem, G_pts, G_colors, G_markers, 19, msize=6.5)
sig(PG, G_sig, 8)
pline(PG, 80, 1215.7, 110, 1215.7)
pline(PG, 115, 1215.7, 168.3, 1215.7)
ptext(PG, 98.3, 1225, "0mmHg", 8.5)
ptext(PG, 144.2, 1225, "40mmHg", 8.5)
ptext(PG, 58.3, 1141.7, "Ratio Cav1.2/GAPDH", 9, angle=math.pi / 2)

PH = Panel(238, 490, 950, 1232, xcal=(0, 356.7, 1.467), ycal=(0, 1057.7, 52.65))
ptext(PH, 257, 969, "H", 14, align="left")
ptext(PH, 366.7, 1032.3, "Membrane potential（ mV）", 9.5)
ptext(PH, 245, 1121.7, "Current density（ pA/pF）", 9.5, angle=math.pi / 2, bold=False, font=SERIF)
iv_axes(PH)
for k in [1, 0, 2, 3]:
    iv_series(PH, E_V, H_mean[k], H_sem[k], H_colors[k], H_markers[k], hollow=(k == 0),
              size=7 if k == 0 else 6)
iv_marks(PH, E_V, H_sig_red, [v + e + 0.04 for v, e in zip(H_mean[3], H_sem[3])], H_colors[3], "bottom")
iv_marks(PH, E_V, H_sig_teal, [v + e + 0.03 for v, e in zip(H_mean[2], H_sem[2])], H_colors[2], "bottom")
for k, (nm, c, mk) in enumerate(zip(H_names, H_colors, H_markers)):
    yy = [1147.7, 1159, 1170.2, 1181.4][k]
    pline(PH, 278, yy, 292, yy, color=c, w=1.5)
    PH.p.scatter([PH.dx(285)], [PH.dy(yy)], marker=mk, size=6, fill_color="white" if k == 0 else c,
                 line_color=c, line_width=1.5)
    ptext(PH, 297, yy, nm, 7.5, align="left")

PIb = Panel(490, 733, 950, 1062)
ptext(PIb, 490.5, 969, "I", 14, align="left")
ptext(PIb, 531, 996.7, "Yoda1", 8.5)
ptext(PIb, 530.5, 1011.7, "PP1", 8.5)
for xh, a, b in zip([566, 589.3, 618.3, 643.3], I_yoda, I_pp1):
    ptext(PIb, xh, 996.7, a, 8.5)
    ptext(PIb, xh, 1011.7, b, 8.5)
ptext(PIb, 670, 996.7, "( μM )", 8.5)
ptext(PIb, 670, 1011.7, "( μM )", 8.5)
I_rows = [(1018.3, 1030), (1031.7, 1044.3)]
blot(PIb, 553.3, 656.7, I_rows, I_bands, ["#ececec", "#eeeeee"])
for (ya, yb), nm, kd in zip(I_rows, I_proteins, I_kda):
    ptext(PIb, 533, (ya + yb) / 2, nm, 8.5)
    ptext(PIb, 660, (ya + yb) / 2, kd, 8.5, align="left")

PI = Panel(490, 733, 1062, 1232, xcal=(0, 580.3, 26.1), ycal=(0, 1197.7, 76.3))
bar_axes(PI, 564, 668, [0, 0.5, 1.0, 1.5], I_ticks, orient=math.pi / 4, xsize=7.6, ysize=8.5)
bars(PI, I_mean, I_sem, I_pts, I_colors, I_markers, 16, msize=6)
sig(PI, I_sig, 8)
ptext(PI, 535, 1141.7, "Ratio Cav1.2/GAPDH", 9, angle=math.pi / 2)

layout = column(
    row(PAb.p, PA1.p, PA2.p),
    row(PBb.p, PB1.p, PB2.p),
    row(PCb.p, PC1.p, PC2.p),
    row(PDt.p, PD.p, PE.p),
    row(PFb.p, PF1.p, PF2.p),
    row(column(PGb.p, PG.p), PH.p, column(PIb.p, PI.p)),
)

open("out.html", "w").write(file_html(layout, INLINE))
